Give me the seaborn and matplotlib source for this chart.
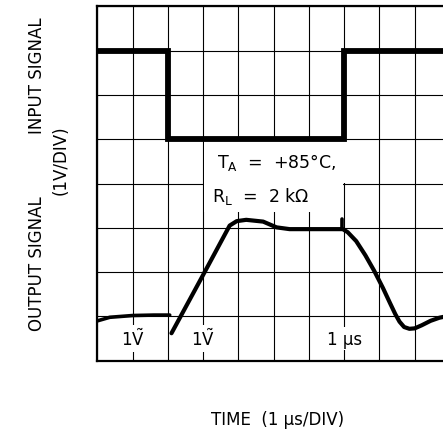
import matplotlib
matplotlib.use("Agg")
import matplotlib.pyplot as plt
from matplotlib.patches import Rectangle
import seaborn as sns

# Input square wave (divisions: x 0..10, y 0..8 from the bottom)
input_x = [0, 2, 2, 7, 7, 10]
input_y = [7, 7, 5, 5, 7, 7]

# Output trace, leading flat part
out1_x = [0, 0.35, 1.0, 1.6, 2.05]
out1_y = [0.9, 0.98, 1.02, 1.03, 1.03]

# Output trace, slew up / plateau / slew down
out2_x = [2.1, 3.0, 3.75, 3.95, 4.22, 4.7, 5.08, 5.45, 6.96, 7.1, 7.34, 7.6,
          7.85, 8.1, 8.3, 8.45, 8.57, 8.7, 8.85, 9.0, 9.2, 9.45, 9.7, 10.0]
out2_y = [0.62, 1.94, 3.05, 3.15, 3.18, 3.14, 3.01, 2.97, 2.97, 2.9, 2.7, 2.38,
          2.03, 1.64, 1.3, 1.05, 0.88, 0.76, 0.72, 0.73, 0.8, 0.9, 0.97, 1.02]

# little trigger mark on the plateau
mark_x = [6.95, 6.95]
mark_y = [2.97, 3.2]

sns.set_style("white")
plt.rcParams["font.family"] = ["DejaVu Sans"]
plt.rcParams["mathtext.fontset"] = "dejavusans"
plt.rcParams["text.color"] = "black"

fig = plt.figure(figsize=(4.43, 4.35), dpi=100)
ax = fig.add_axes([0.220, 0.1685, 0.7957, 0.8147])

ax.set_xlim(0, 10)
ax.set_ylim(0, 8)
ax.set_xticks(range(11))
ax.set_yticks(range(9))
ax.set_axisbelow(True)
ax.grid(True, color="black", linewidth=0.8)
ax.tick_params(length=0, labelbottom=False, labelleft=False)
for s in ["left", "top", "bottom"]:
    ax.spines[s].set_color("black")
    ax.spines[s].set_linewidth(1.6)
ax.spines["right"].set_visible(False)

# white patch behind the conditions text
ax.add_patch(Rectangle((3.03, 3.35), 3.94, 1.62, facecolor="white", edgecolor="none", zorder=1))
ax.add_patch(Rectangle((6.9, 4.02), 0.2, 0.95, facecolor="white", edgecolor="none", zorder=1))

sns.lineplot(x=input_x, y=input_y, estimator=None, sort=False, ax=ax, color="black",
             linewidth=4.2, solid_joinstyle="miter", solid_capstyle="butt", zorder=3)
sns.lineplot(x=out1_x, y=out1_y, estimator=None, sort=False, ax=ax, color="black",
             linewidth=2.6, zorder=3)
sns.lineplot(x=out2_x, y=out2_y, estimator=None, sort=False, ax=ax, color="black",
             linewidth=3.0, solid_joinstyle="round", zorder=3)
sns.lineplot(x=mark_x, y=mark_y, estimator=None, sort=False, ax=ax, color="black",
             linewidth=2.6, zorder=3)

box = dict(facecolor="white", edgecolor="none", pad=2)
fs = 12
ax.text(1.0, 0.5, r"1$\tilde{\mathregular{V}}$", ha="center", va="center", fontsize=fs, bbox=box, zorder=2)
ax.text(3.0, 0.5, r"1$\tilde{\mathregular{V}}$", ha="center", va="center", fontsize=fs, bbox=box, zorder=2)
ax.text(7.0, 0.5, "1 μs", ha="center", va="center", fontsize=fs, bbox=box, zorder=2)
ax.text(3.4, 4.5, r"T$_{\mathregular{A}}$  =  +85°C,", ha="left", va="center", fontsize=12.5, zorder=2)
ax.text(3.24, 3.72, r"R$_{\mathregular{L}}$  =  2 kΩ", ha="left", va="center", fontsize=12.5, zorder=2)

fig.text(37 / 443, 1 - 76 / 435, "INPUT SIGNAL", rotation=90, ha="center", va="center", fontsize=fs)
fig.text(37 / 443, 1 - 264 / 435, "OUTPUT SIGNAL", rotation=90, ha="center", va="center", fontsize=fs)
fig.text(61 / 443, 1 - 160 / 435, "(1V/DIV)", rotation=90, ha="center", va="center", fontsize=fs)
fig.text(278 / 443, 1 - 420 / 435, "TIME  (1 μs/DIV)", ha="center", va="center", fontsize=fs)

fig.savefig("out.png", dpi=100)
